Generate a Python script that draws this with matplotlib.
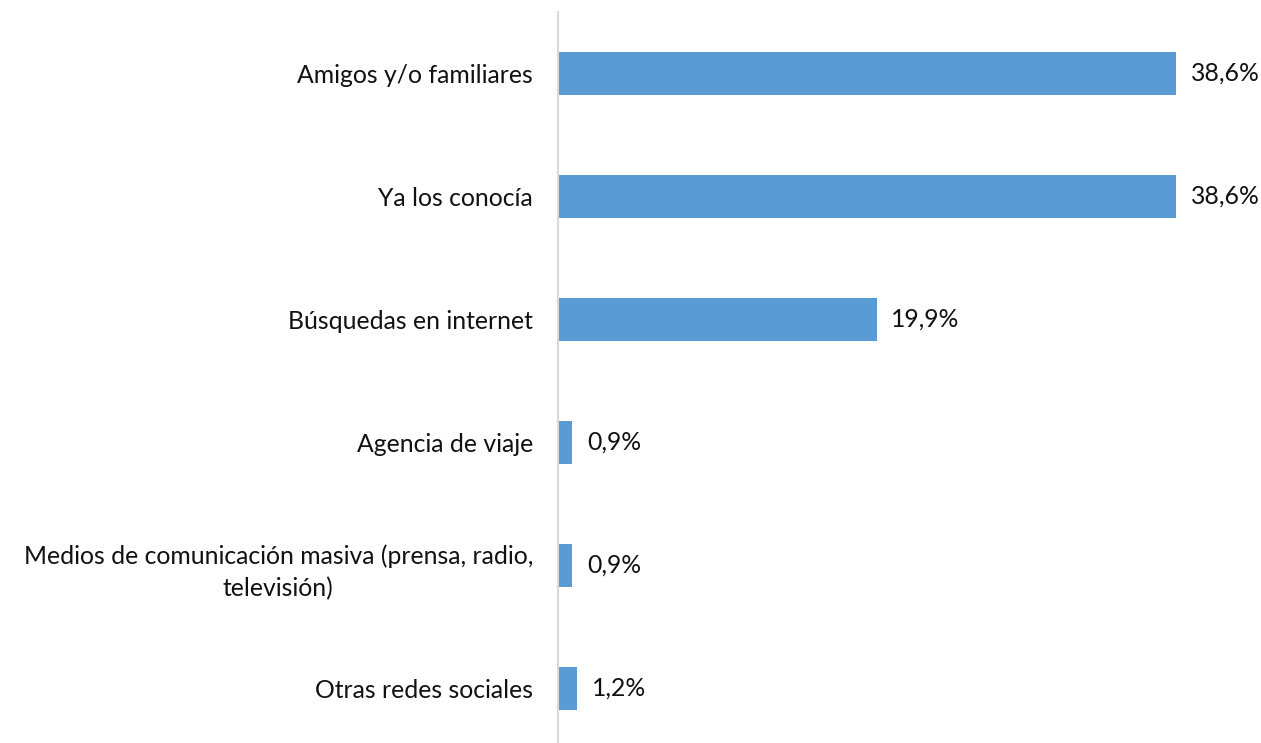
import numpy as np
import matplotlib.pyplot as plt

# Datos
categorias = ["Amigos y/o familiares",
              "Ya los conocía",
              "Búsquedas en internet",
              "Agencia de viaje",
              "Medios de comunicación masiva (prensa, radio,\ntelevisión)",
              "Otras redes sociales"]
valores = [38.6, 38.6, 19.9, 0.9, 0.9, 1.2]
etiquetas = ["38,6%", "38,6%", "19,9%", "0,9%", "0,9%", "1,2%"]

plt.rcParams['font.family'] = ['Lato', 'DejaVu Sans']

W, H = 1261, 743
fig = plt.figure(figsize=(W / 100, H / 100), dpi=100)
x0, x1 = 558, 1240
y_top, y_bot = 12, 750
ax = fig.add_axes([x0 / W, (H - y_bot) / H, (x1 - x0) / W, (y_bot - y_top) / H])

pos = np.arange(len(categorias))
ax.barh(pos, valores, height=0.35, color='#5B9BD5')
ax.set_ylim(len(categorias) - 0.5, -0.5)
ax.set_xlim(0, 38.6 * (x1 - x0) / (1176 - x0))

for p, v, e in zip(pos, valores, etiquetas):
    ax.annotate(e, (v, p), xytext=(10.5, 0), textcoords='offset points',
                ha='left', va='center', fontsize=17.8, color='#111111')

ax.set_yticks(pos)
ax.set_yticklabels(categorias, fontsize=17.8, color='#111111',
                   multialignment='center')
for lbl in ax.get_yticklabels():
    lbl.set_linespacing(1.5)
ax.tick_params(axis='y', length=0, pad=18)
ax.set_xticks([])

for s in ['top', 'right', 'bottom']:
    ax.spines[s].set_visible(False)
ax.spines['left'].set_color('#D9D9D9')
ax.spines['left'].set_linewidth(1.5)

fig.savefig('out.png', dpi=100)
